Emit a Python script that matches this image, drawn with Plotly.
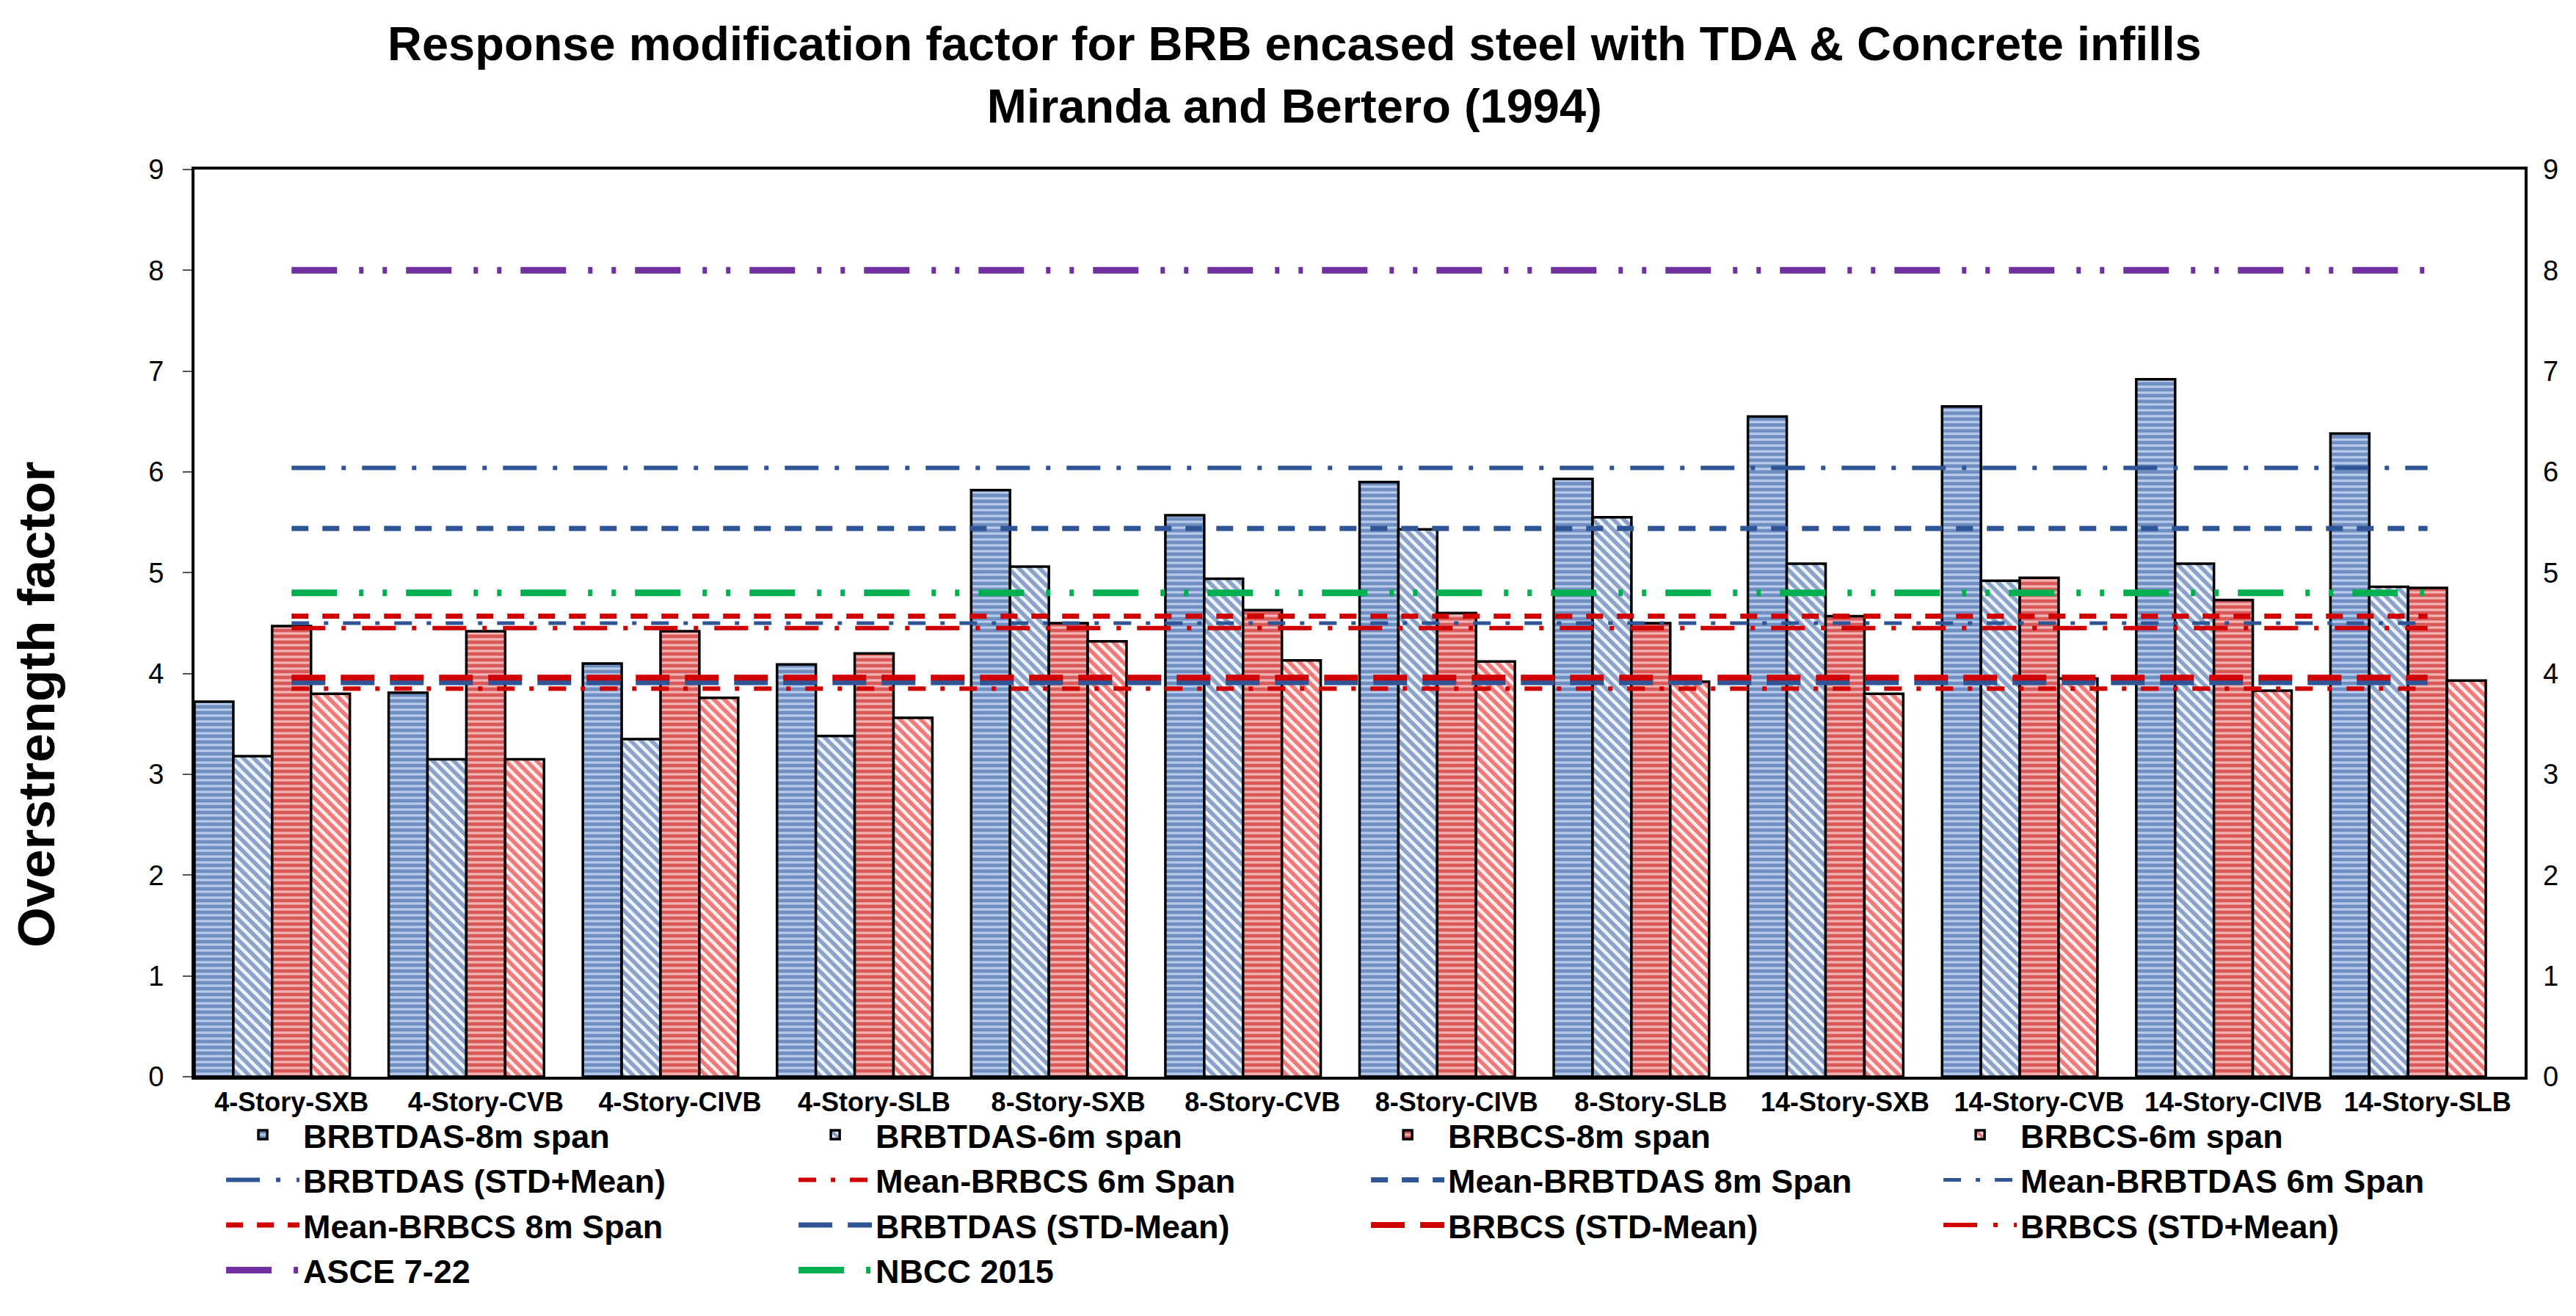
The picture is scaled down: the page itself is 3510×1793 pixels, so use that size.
import plotly.graph_objects as go

categories = ["4-Story-SXB", "4-Story-CVB", "4-Story-CIVB", "4-Story-SLB",
              "8-Story-SXB", "8-Story-CVB", "8-Story-CIVB", "8-Story-SLB",
              "14-Story-SXB", "14-Story-CVB", "14-Story-CIVB", "14-Story-SLB"]
brbtdas_8m = [3.72, 3.81, 4.10, 4.09, 5.82, 5.57, 5.90, 5.93, 6.55, 6.65, 6.92, 6.38]
brbtdas_6m = [3.18, 3.15, 3.35, 3.38, 5.06, 4.94, 5.43, 5.55, 5.09, 4.92, 5.09, 4.86]
brbcs_8m = [4.47, 4.42, 4.42, 4.20, 4.50, 4.63, 4.60, 4.50, 4.57, 4.95, 4.73, 4.85]
brbcs_6m = [3.80, 3.15, 3.76, 3.56, 4.32, 4.13, 4.12, 3.92, 3.80, 3.95, 3.83, 3.93]

# reference line levels
brbtdas_std_plus_mean = 6.04
mean_brbcs_6m = 3.85
mean_brbtdas_8m = 5.44
mean_brbtdas_6m = 4.50
mean_brbcs_8m = 4.57
brbtdas_std_minus_mean = 3.91
brbcs_std_minus_mean = 3.96
brbcs_std_plus_mean = 4.45
asce_7_22 = 8.0
nbcc_2015 = 4.8

y_ticks = [0, 1, 2, 3, 4, 5, 6, 7, 8, 9]

title_lines = ["Response modification factor for BRB encased steel with TDA & Concrete infills",
               "Miranda and Bertero (1994)"]
y_title = "Overstrength factor"

FONT = "Liberation Sans"
BLUE = "#2F5597"
RED = "#D00000"
PURPLE = "#7030A0"
GREEN = "#00B050"

fig = go.Figure()

bar_specs = [
    ("BRBTDAS-8m span", brbtdas_8m, "-", "#284E92", "#B8CCEC", 8, 0.6),
    ("BRBTDAS-6m span", brbtdas_6m, "\\", "#284E92", "#EEF4FC", 10, 0.55),
    ("BRBCS-8m span", brbcs_8m, "-", "#BE0000", "#F2B4B4", 8, 0.6),
    ("BRBCS-6m span", brbcs_6m, "\\", "#E00000", "#FFF0F0", 10, 0.55),
]
for k, (name, vals, shape, fg, bg, psize, sol) in enumerate(bar_specs):
    fig.add_trace(go.Bar(
        name=name, x=categories, y=vals,
        width=0.2, offset=-0.5 + 0.2 * k,
        marker=dict(color=bg, line=dict(color="black", width=3.5),
                    pattern=dict(shape=shape, fgcolor=fg, bgcolor=bg,
                                 size=psize, solidity=sol)),
    ))

def ref_line(name, level, color, width, dash, yaxis="y"):
    fig.add_trace(go.Scatter(
        name=name, x=categories, y=[level] * len(categories), yaxis=yaxis,
        mode="lines", line=dict(color=color, width=width, dash=dash),
        hoverinfo="skip",
    ))

DASHDOT_LONG = "46px,22px,6px,22px"
DASHDOT_SHORT = "24px,20px,6px,20px"
DASHED = "23px,19px"
LONGDASH = "46px,21px"
DASHDOTDOT = "62px,30px,6px,26px,6px,26px"

ref_line("BRBTDAS (STD+Mean)", brbtdas_std_plus_mean, BLUE, 6, DASHDOT_LONG)
ref_line("Mean-BRBCS 6m Span", mean_brbcs_6m, RED, 6, DASHDOT_SHORT)
ref_line("Mean-BRBTDAS 8m Span", mean_brbtdas_8m, BLUE, 7, DASHED)
ref_line("Mean-BRBTDAS 6m Span", mean_brbtdas_6m, BLUE, 5, DASHDOT_SHORT)
ref_line("Mean-BRBCS 8m Span", mean_brbcs_8m, RED, 7, DASHED)
ref_line("BRBTDAS (STD-Mean)", brbtdas_std_minus_mean, BLUE, 7, LONGDASH)
ref_line("BRBCS (STD-Mean)", brbcs_std_minus_mean, RED, 8, LONGDASH)
ref_line("BRBCS (STD+Mean)", brbcs_std_plus_mean, RED, 6, DASHDOT_LONG)
ref_line("ASCE 7-22", asce_7_22, PURPLE, 9, DASHDOTDOT, yaxis="y2")
ref_line("NBCC 2015", nbcc_2015, GREEN, 9, DASHDOTDOT, yaxis="y2")

fig.update_layout(
    width=3510, height=1793,
    paper_bgcolor="white", plot_bgcolor="white",
    margin=dict(l=257, r=78, t=223, b=334),
    barmode="overlay",
    font=dict(family=FONT, color="black"),
    xaxis=dict(
        type="category", categoryorder="array", categoryarray=categories,
        range=[-0.5, len(categories) - 0.5],
        showline=True, linecolor="black", linewidth=4, mirror=True,
        ticks="", showgrid=False,
        tickfont=dict(size=36, family=FONT, color="black", weight="bold"),
    ),
    yaxis=dict(
        range=[0, 9], tickvals=y_ticks, showgrid=False, zeroline=False,
        showline=True, linecolor="black", linewidth=4, mirror=True,
        ticks="outside", ticklen=12, tickwidth=2, tickcolor="#555555",
        tickfont=dict(size=38, family=FONT, color="black"),
        ticklabelstandoff=18,
    ),
    yaxis2=dict(
        range=[0, 9], tickvals=y_ticks, overlaying="y", side="right",
        showgrid=False, zeroline=False, showline=False, ticks="",
        tickfont=dict(size=38, family=FONT, color="black"),
        ticklabelstandoff=24,
    ),
    legend=dict(
        orientation="h", x=0.012, xanchor="left", y=-0.035, yanchor="top",
        entrywidth=665, entrywidthmode="pixels", itemwidth=100,
        font=dict(size=45, family=FONT, color="black", weight="bold"),
        bgcolor="rgba(0,0,0,0)", traceorder="normal",
    ),
    annotations=[
        dict(text="<b>" + "<br>".join(title_lines) + "</b>",
             xref="paper", yref="paper", x=0.472, y=1.039, xanchor="center", yanchor="bottom",
             showarrow=False, font=dict(size=65, family=FONT, color="black")),
        dict(text="<b>" + y_title + "</b>", textangle=-90,
             xref="paper", yref="paper", x=-0.068, y=0.41, xanchor="center", yanchor="middle",
             showarrow=False, font=dict(size=71, family=FONT, color="black")),
    ],
)

fig.write_html("out.html")
